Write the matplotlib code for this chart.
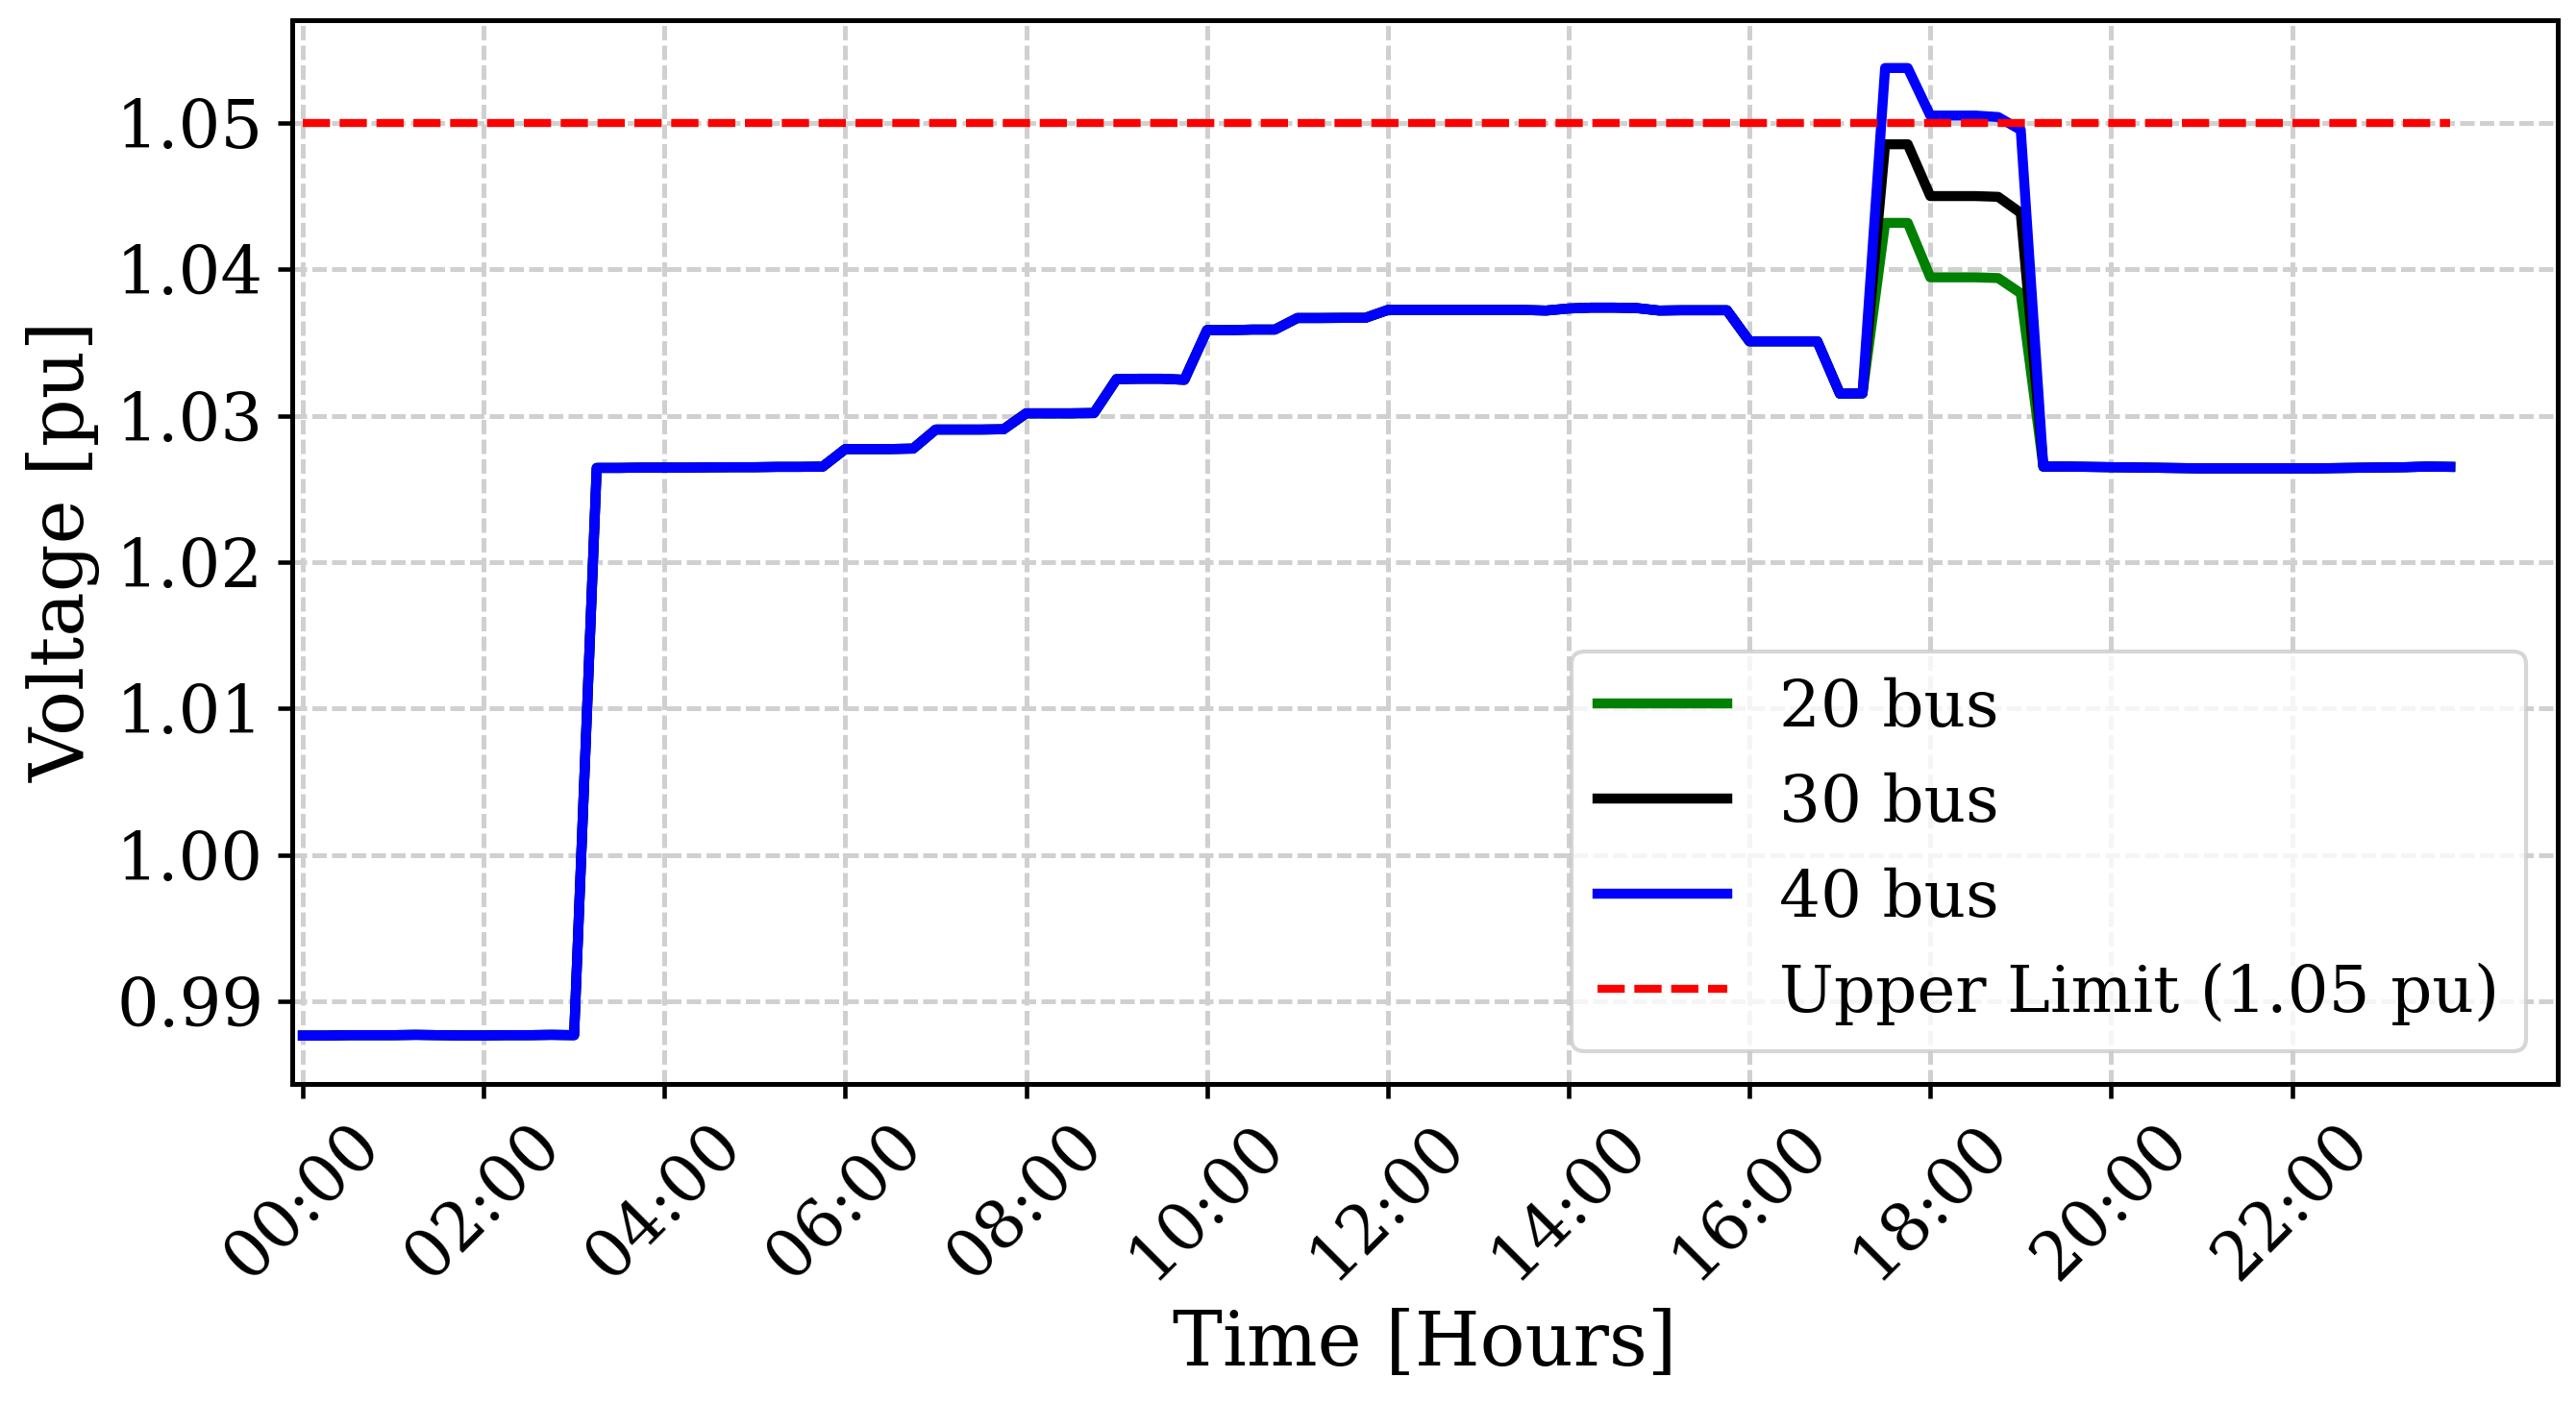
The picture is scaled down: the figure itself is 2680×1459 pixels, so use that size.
import numpy as np
import matplotlib
matplotlib.use("Agg")
import matplotlib.pyplot as plt

# ---------------- data (15-minute steps, 00:00 .. 23:45) ----------------
tick_labels = ["00:00", "02:00", "04:00", "06:00", "08:00", "10:00",
               "12:00", "14:00", "16:00", "18:00", "20:00", "22:00"]

bus40 = [
    # 00:00 - 03:00
    0.98765, 0.98765, 0.98768, 0.98768, 0.98768, 0.98770, 0.98768, 0.98766,
    0.98766, 0.98768, 0.98768, 0.98770, 0.98768,
    # 03:15 - 05:45
    1.02643, 1.02643, 1.02645, 1.02645, 1.02645, 1.02647, 1.02648, 1.02648,
    1.02650, 1.02650, 1.02652,
    # 06:00 - 06:45
    1.02772, 1.02772, 1.02772, 1.02775,
    # 07:00 - 07:45
    1.02905, 1.02905, 1.02905, 1.02907,
    # 08:00 - 08:45
    1.03016, 1.03016, 1.03016, 1.03018,
    # 09:00 - 09:45
    1.03250, 1.03252, 1.03252, 1.03245,
    # 10:00 - 10:45
    1.03584, 1.03584, 1.03588, 1.03588,
    # 11:00 - 11:45
    1.03667, 1.03667, 1.03668, 1.03668,
    # 12:00 - 13:45
    1.03722, 1.03722, 1.03722, 1.03722, 1.03722, 1.03722, 1.03722, 1.03718,
    # 14:00 - 14:45
    1.03732, 1.03738, 1.03738, 1.03735,
    # 15:00 - 15:45
    1.03718, 1.03720, 1.03720, 1.03720,
    # 16:00 - 16:45
    1.03508, 1.03508, 1.03508, 1.03508,
    # 17:00 - 17:15
    1.03150, 1.03152,
    # 17:30 - 19:00
    1.05375, 1.05375, 1.05050, 1.05050, 1.05050, 1.05040, 1.04952,
    # 19:15 - 23:45
    1.02652, 1.02652, 1.02650, 1.02648, 1.02646, 1.02644, 1.02642, 1.02640,
    1.02640, 1.02640, 1.02640, 1.02640, 1.02640, 1.02642, 1.02644, 1.02646,
    1.02648, 1.02652, 1.02650,
]

# 30 bus and 20 bus are identical to 40 bus except during the 17:30-19:00 peak
peak30 = [1.04854, 1.04854, 1.04500, 1.04500, 1.04500, 1.04495, 1.04385]
peak20 = [1.04317, 1.04317, 1.03945, 1.03945, 1.03945, 1.03940, 1.03836]
peak_start = 70

upper_limit = 1.05

bus30 = list(bus40)
bus30[peak_start:peak_start + len(peak30)] = peak30
bus20 = list(bus40)
bus20[peak_start:peak_start + len(peak20)] = peak20

x = np.arange(len(bus40))
tick_pos = np.arange(0, len(bus40), 8)[:len(tick_labels)]

# ---------------- figure ----------------
plt.rcParams["font.family"] = ["DejaVu Serif"]

fig = plt.figure(figsize=(2680 / 300, 1459 / 300), dpi=300)
ax = fig.add_axes([303.8 / 2680, 1 - 1127.8 / 1459,
                   (2661.3 - 303.8) / 2680, (1127.8 - 20.8) / 1459])

ax.plot(x, bus20, color="green", lw=2.5, label="20 bus")
ax.plot(x, bus30, color="black", lw=2.5, label="30 bus")
ax.plot(x, bus40, color="blue", lw=2.5, label="40 bus")
ax.plot(x, [upper_limit] * len(x), color="red", lw=2.0,
        linestyle=(0, (3.4, 1.2)), label="Upper Limit (1.05 pu)")

ax.set_xlim(-0.48, 99.77)
ax.set_ylim(0.98436, 1.05703)
ax.set_yticks(np.arange(0.99, 1.0501, 0.01))
ax.yaxis.set_major_formatter(matplotlib.ticker.FormatStrFormatter("%.2f"))
ax.set_xticks(tick_pos)
ax.set_xticklabels(tick_labels, rotation=45, ha="center")

ax.tick_params(labelsize=16.5, width=1.1, length=3.6)
for s in ax.spines.values():
    s.set_linewidth(1.2)

ax.grid(True, color="#d0d0d0", lw=1.2, linestyle=(0, (3.0, 1.1)))
ax.set_axisbelow(True)

ax.set_xlabel("Time [Hours]", fontsize=18.7)
ax.set_ylabel("Voltage [pu]", fontsize=18.7, labelpad=4)

ax.legend(loc="lower right", fontsize=16.2)

fig.savefig("out.png", dpi=300)
